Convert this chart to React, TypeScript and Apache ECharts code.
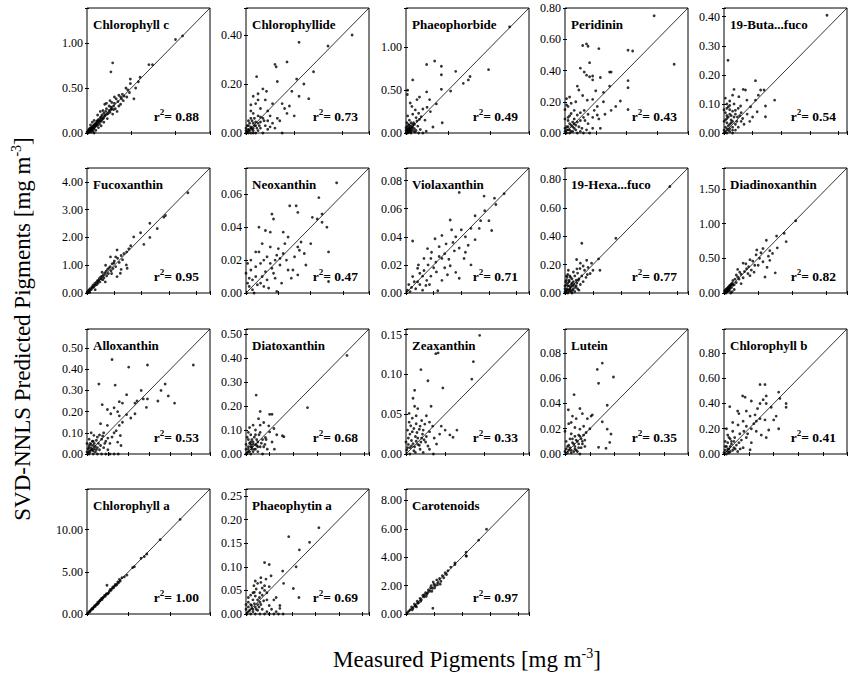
import React, { useEffect, useRef } from "react";
import * as echarts from "echarts";

const PANEL_NAMES = [
  "Chlorophyll c", "Chlorophyllide", "Phaeophorbide", "Peridinin", "19-Buta...fuco",
  "Fucoxanthin", "Neoxanthin", "Violaxanthin", "19-Hexa...fuco", "Diadinoxanthin",
  "Alloxanthin", "Diatoxanthin", "Zeaxanthin", "Lutein", "Chlorophyll b",
  "Chlorophyll a", "Phaeophytin a", "Carotenoids",
];
const AXIS_MAX = [1.39, 0.51, 1.46, 0.8, 0.43, 4.5, 0.076, 0.089, 0.88, 1.8, 0.59, 0.52, 0.157, 0.099, 0.99, 14.8, 0.265, 8.8];
const TICK_STEP = [0.5, 0.2, 0.5, 0.2, 0.1, 1, 0.02, 0.02, 0.2, 0.5, 0.1, 0.1, 0.05, 0.02, 0.2, 5, 0.05, 2];
const R2_LABELS = ["0.88", "0.73", "0.49", "0.43", "0.54", "0.95", "0.47", "0.71", "0.77", "0.82", "0.53", "0.68", "0.33", "0.35", "0.41", "1.00", "0.69", "0.97"];
const X_TITLE = "Measured Pigments [mg m{s|-3}]";
const Y_TITLE = "SVD-NNLS Predicted Pigments [mg m{s|-3}]";

const D_CHLC = [[1.00,1.04],[1.08,1.08],[0.29,0.78],[0.27,0.68],[0.70,0.76],[0.74,0.76],[0.60,0.62],[0.49,0.60],[0.49,0.55],[0.53,0.38],[0.46,0.48],[0.44,0.50],[0.40,0.43],[0.38,0.40],[0.36,0.42],[0.35,0.35],[0.33,0.38],[0.31,0.33],[0.30,0.30],[0.28,0.34],[0.27,0.26],[0.25,0.30],[0.24,0.22],[0.22,0.27],[0.21,0.24],[0.20,0.19],[0.19,0.22],[0.18,0.16],[0.17,0.20],[0.16,0.13],[0.15,0.17],[0.14,0.10],[0.13,0.15],[0.12,0.12],[0.11,0.08],[0.10,0.11],[0.09,0.07],[0.08,0.09],[0.07,0.05],[0.06,0.07],[0.05,0.04],[0.04,0.06],[0.03,0.03],[0.02,0.02],[0.05,0.01],[0.10,0.03],[0.2,0.32],[0.22,0.33],[0.26,0.36],[0.32,0.27],[0.34,0.24],[0.38,0.32],[0.41,0.36],[0.42,0.41],[0.45,0.40],[0.36,0.30],[0.29,0.21],[0.23,0.16],[0.19,0.12],[0.15,0.24],[0.12,0.20],[0.08,0.14],[0.06,0.12],[0.04,0.09],[0.03,0.05],[0.02,0.04],[0.01,0.01],[0.07,0.02],[0.55,0.50],[0.58,0.57],[0.48,0.45],[0.39,0.38],[0.31,0.40],[0.27,0.29],[0.18,0.25],[0.16,0.08],[0.13,0.06],[0.01,0.0],[0.02,0.01],[0.04,0.03],[0.05,0.06],[0.06,0.04],[0.08,0.05],[0.09,0.10],[0.11,0.13],[0.12,0.09],[0.08,0.0],[0.0,0.01],[0.01,0.02],[0.02,0.03],[0.03,0.01],[0.04,0.04],[0.05,0.03],[0.06,0.06],[0.07,0.08],[0.08,0.06],[0.09,0.08],[0.10,0.09],[0.11,0.10],[0.12,0.14],[0.14,0.12],[0.15,0.14],[0.16,0.18],[0.17,0.15],[0.19,0.17],[0.21,0.20],[0.23,0.21],[0.25,0.25],[0.26,0.23],[0.28,0.27],[0.30,0.26]];
const D_CHLIDE = [[0.44,0.40],[0.22,0.37],[0.34,0.355],[0.12,0.28],[0.17,0.29],[0.125,0.27],[0.044,0.23],[0.28,0.25],[0.13,0.21],[0.07,0.18],[0.085,0.17],[0.21,0.22],[0.24,0.20],[0.22,0.15],[0.05,0.135],[0.08,0.135],[0.11,0.12],[0.17,0.08],[0.13,0.06],[0.14,0.05],[0.10,0.025],[0.06,0.10],[0.04,0.12],[0.03,0.08],[0.09,0.09],[0.15,0.12],[0.16,0.10],[0.18,0.11],[0.10,0.07],[0.07,0.06],[0.05,0.07],[0.02,0.06],[0.03,0.04],[0.04,0.03],[0.06,0.02],[0.08,0.03],[0.12,0.02],[0.02,0.02],[0.01,0.03],[0.01,0.01],[0.02,0.0],[0.03,0.01],[0.04,0.0],[0.05,0.01],[0.0,0.01],[0.01,0.05],[0.02,0.09],[0.06,0.045],[0.09,0.015],[0.07,0.0],[0.15,0.0],[0.11,0.04],[0.03,0.15],[0.05,0.16],[0.19,0.17],[0.2,0.07],[0.26,0.14],[0.01,0.0],[0.0,0.02],[0.03,0.0],[0.0,0.0],[0.005,0.005],[0.01,0.015],[0.015,0.01],[0.02,0.025],[0.025,0.015],[0.03,0.02],[0.035,0.03],[0.04,0.045],[0.045,0.02],[0.05,0.04],[0.055,0.03],[0.015,0.04],[0.025,0.05],[0.035,0.06],[0.005,0.03],[0.06,0.065],[0.075,0.05],[0.02,0.115],[0.09,0.05]];
const D_PHBIDE = [[1.23,1.24],[0.245,0.80],[0.34,0.84],[0.42,0.78],[0.42,0.68],[0.59,0.72],[0.98,0.74],[0.76,0.66],[0.74,0.62],[0.68,0.58],[0.08,0.62],[0.42,0.51],[0.53,0.49],[0.245,0.48],[0.16,0.42],[0.13,0.39],[0.28,0.39],[0.36,0.34],[0.07,0.31],[0.11,0.27],[0.15,0.23],[0.225,0.15],[0.32,0.07],[0.43,0.12],[0.016,0.45],[0.02,0.50],[0.05,0.35],[0.08,0.22],[0.12,0.18],[0.18,0.19],[0.20,0.28],[0.25,0.30],[0.29,0.25],[0.04,0.15],[0.06,0.12],[0.10,0.10],[0.14,0.08],[0.02,0.20],[0.03,0.10],[0.05,0.06],[0.07,0.04],[0.09,0.02],[0.12,0.03],[0.17,0.04],[0.20,0.0],[0.24,0.02],[0.01,0.02],[0.02,0.05],[0.03,0.03],[0.04,0.01],[0.05,0.02],[0.06,0.0],[0.08,0.07],[0.10,0.05],[0.01,0.08],[0.0,0.03],[0.02,0.0],[0.11,0.01],[0.15,0.0],[0.03,0.07],[0.0,0.0],[0.01,0.01],[0.02,0.015],[0.03,0.01],[0.04,0.03],[0.05,0.04],[0.015,0.035],[0.025,0.045],[0.035,0.02],[0.045,0.05],[0.06,0.08],[0.07,0.06],[0.08,0.10],[0.09,0.12],[0.0,0.06],[0.01,0.12],[0.04,0.09],[0.06,0.02],[0.13,0.14],[0.16,0.16]];
const D_PERID = [[0.58,0.75],[0.71,0.44],[0.115,0.56],[0.14,0.57],[0.15,0.555],[0.22,0.54],[0.41,0.53],[0.44,0.525],[0.16,0.45],[0.10,0.415],[0.125,0.39],[0.14,0.37],[0.16,0.36],[0.18,0.365],[0.18,0.34],[0.23,0.355],[0.29,0.39],[0.30,0.39],[0.41,0.335],[0.41,0.29],[0.36,0.205],[0.29,0.30],[0.30,0.145],[0.41,0.15],[0.08,0.30],[0.09,0.275],[0.115,0.24],[0.145,0.21],[0.18,0.215],[0.21,0.17],[0.21,0.115],[0.22,0.09],[0.23,0.03],[0.18,0.03],[0.03,0.23],[0.02,0.17],[0.04,0.125],[0.06,0.145],[0.08,0.115],[0.10,0.08],[0.15,0.06],[0.05,0.07],[0.18,0.10],[0.19,0.145],[0.125,0.145],[0.01,0.22],[0.01,0.18],[0.02,0.10],[0.03,0.06],[0.01,0.04],[0.02,0.02],[0.04,0.01],[0.06,0.03],[0.08,0.0],[0.10,0.01],[0.12,0.0],[0.14,0.02],[0.16,0.0],[0.0,0.01],[0.01,0.0],[0.03,0.0],[0.05,0.04],[0.07,0.05],[0.12,0.10],[0.15,0.12],[0.25,0.20],[0.26,0.12],[0.33,0.17],[0.25,0.26],[0.2,0.27],[0.0,0.03],[0.01,0.02],[0.02,0.04],[0.03,0.02],[0.04,0.05],[0.05,0.01],[0.06,0.06],[0.07,0.02],[0.09,0.04],[0.11,0.03],[0.02,0.08],[0.0,0.09],[0.03,0.11],[0.06,0.09],[0.08,0.07],[0.0,0.15],[0.04,0.19],[0.07,0.20],[0.1,0.13],[0.13,0.08]];
const D_BUTA = [[0.36,0.405],[0.014,0.25],[0.11,0.18],[0.067,0.15],[0.075,0.148],[0.128,0.148],[0.14,0.148],[0.035,0.15],[0.03,0.13],[0.052,0.125],[0.08,0.113],[0.11,0.113],[0.145,0.093],[0.058,0.093],[0.093,0.09],[0.116,0.073],[0.081,0.065],[0.10,0.055],[0.04,0.078],[0.047,0.055],[0.177,0.113],[0.145,0.056],[0.01,0.10],[0.015,0.09],[0.02,0.08],[0.005,0.07],[0.025,0.06],[0.01,0.05],[0.03,0.04],[0.02,0.03],[0.005,0.02],[0.015,0.01],[0.03,0.02],[0.04,0.03],[0.06,0.04],[0.05,0.02],[0.07,0.03],[0.0,0.04],[0.0,0.0],[0.01,0.0],[0.02,0.005],[0.03,0.0],[0.04,0.01],[0.065,0.05],[0.09,0.04],[0.02,0.11],[0.005,0.12],[0.035,0.1],[0.05,0.085],[0.12,0.13],[0.06,0.07],[0.01,0.06],[0.0,0.01],[0.005,0.005],[0.01,0.015],[0.015,0.025],[0.02,0.015],[0.025,0.035],[0.01,0.035],[0.005,0.045],[0.015,0.055],[0.02,0.065],[0.025,0.045],[0.03,0.075],[0.035,0.055],[0.0,0.08],[0.01,0.085],[0.02,0.095],[0.04,0.065],[0.045,0.04],[0.055,0.06],[0.03,0.01]];
const D_FUCO = [[3.69,3.61],[2.87,2.79],[2.81,2.73],[2.57,2.32],[2.30,2.51],[1.96,2.17],[2.30,2.00],[1.71,2.02],[1.53,1.59],[2.08,1.75],[1.10,0.59],[1.22,0.71],[0.86,1.30],[0.98,1.08],[1.44,1.01],[1.47,0.89],[0.67,0.40],[1.60,1.70],[1.45,1.48],[1.35,1.42],[1.30,1.20],[1.25,1.35],[1.18,1.10],[1.12,1.25],[1.05,0.95],[1.00,1.15],[0.95,0.88],[0.92,1.05],[0.88,0.80],[0.85,0.95],[0.80,0.90],[0.78,0.70],[0.75,0.85],[0.72,0.62],[0.70,0.78],[0.65,0.72],[0.62,0.55],[0.60,0.66],[0.58,0.48],[0.55,0.60],[0.52,0.50],[0.50,0.58],[0.47,0.40],[0.45,0.52],[0.42,0.45],[0.40,0.35],[0.38,0.44],[0.35,0.30],[0.33,0.38],[0.30,0.28],[0.28,0.34],[0.25,0.22],[0.22,0.28],[0.20,0.18],[0.18,0.22],[0.15,0.12],[0.12,0.16],[0.10,0.08],[0.08,0.12],[0.06,0.05],[0.05,0.08],[0.04,0.03],[0.03,0.05],[0.02,0.01],[0.01,0.03],[0.0,0.0],[0.1,0.02],[0.3,0.12],[0.55,0.75],[0.68,1.0],[1.05,1.30],[1.25,0.85],[1.1,1.55],[0.9,0.7]];
const D_NEO = [[0.056,0.067],[0.045,0.058],[0.027,0.053],[0.031,0.053],[0.016,0.048],[0.032,0.049],[0.017,0.045],[0.041,0.046],[0.044,0.045],[0.047,0.048],[0.047,0.043],[0.050,0.040],[0.008,0.040],[0.012,0.038],[0.015,0.037],[0.023,0.037],[0.026,0.034],[0.024,0.030],[0.034,0.031],[0.032,0.028],[0.040,0.030],[0.051,0.025],[0.008,0.025],[0.020,0.027],[0.023,0.024],[0.018,0.020],[0.011,0.020],[0.009,0.018],[0.006,0.016],[0.003,0.014],[0.016,0.015],[0.021,0.017],[0.026,0.014],[0.029,0.014],[0.032,0.011],[0.037,0.017],[0.051,0.007],[0.001,0.018],[0.010,0.010],[0.004,0.008],[0.013,0.022],[0.015,0.018],[0.017,0.012],[0.019,0.023],[0.021,0.021],[0.006,0.010],[0.007,0.005],[0.002,0.004],[0.004,0.002],[0.009,0.006],[0.011,0.004],[0.013,0.008],[0.014,0.003],[0.002,0.009],[0.0,0.012],[0.001,0.006],[0.005,0.0],[0.012,0.013],[0.018,0.009],[0.022,0.006],[0.028,0.009],[0.025,0.020],[0.003,0.020],[0.006,0.025],[0.019,0.001],[0.03,0.022],[0.033,0.026],[0.036,0.024],[0.010,0.030],[0.015,0.028]];
const D_VIOLA = [[0.0385,0.0716],[0.0565,0.069],[0.071,0.0707],[0.064,0.0675],[0.065,0.063],[0.057,0.0586],[0.054,0.0515],[0.060,0.0515],[0.062,0.0445],[0.053,0.046],[0.047,0.046],[0.040,0.045],[0.032,0.052],[0.021,0.0386],[0.026,0.041],[0.029,0.035],[0.024,0.033],[0.0385,0.032],[0.045,0.034],[0.035,0.030],[0.0156,0.0316],[0.0185,0.029],[0.013,0.0246],[0.018,0.0246],[0.0216,0.022],[0.026,0.0246],[0.032,0.0194],[0.036,0.0147],[0.042,0.0246],[0.047,0.020],[0.0385,0.0105],[0.013,0.016],[0.0084,0.0176],[0.0048,0.0117],[0.0084,0.008],[0.0144,0.0054],[0.023,0.0016],[0.0048,0.037],[0.028,0.028],[0.024,0.026],[0.02,0.018],[0.016,0.02],[0.012,0.012],[0.010,0.014],[0.006,0.008],[0.004,0.004],[0.002,0.006],[0.003,0.001],[0.007,0.003],[0.010,0.006],[0.012,0.002],[0.015,0.009],[0.018,0.012],[0.022,0.015],[0.028,0.018],[0.031,0.024],[0.034,0.036],[0.036,0.040],[0.043,0.040],[0.050,0.038],[0.001,0.002],[0.009,0.020],[0.017,0.006],[0.026,0.009],[0.030,0.013],[0.043,0.029],[0.050,0.055],[0.033,0.045]];
const D_HEXA = [[0.75,0.75],[0.364,0.385],[0.24,0.24],[0.25,0.16],[0.12,0.35],[0.083,0.236],[0.155,0.23],[0.13,0.19],[0.107,0.172],[0.2,0.16],[0.18,0.137],[0.024,0.16],[0.06,0.148],[0.09,0.14],[0.14,0.16],[0.165,0.18],[0.11,0.21],[0.07,0.12],[0.04,0.11],[0.02,0.13],[0.01,0.09],[0.03,0.08],[0.05,0.07],[0.08,0.09],[0.10,0.10],[0.12,0.12],[0.02,0.05],[0.04,0.04],[0.06,0.03],[0.08,0.05],[0.01,0.02],[0.03,0.01],[0.05,0.0],[0.0,0.03],[0.02,0.0],[0.07,0.01],[0.09,0.03],[0.11,0.06],[0.13,0.08],[0.15,0.11],[0.01,0.06],[0.03,0.05],[0.06,0.08],[0.10,0.02],[0.04,0.02],[0.0,0.0],[0.015,0.11],[0.085,0.17],[0.16,0.13],[0.19,0.21],[0.0,0.01],[0.01,0.01],[0.015,0.03],[0.025,0.02],[0.035,0.03],[0.045,0.01],[0.055,0.02],[0.02,0.07],[0.03,0.09],[0.045,0.06],[0.055,0.05],[0.065,0.06],[0.0,0.05],[0.005,0.08],[0.01,0.12],[0.035,0.12],[0.05,0.10],[0.075,0.04],[0.085,0.07],[0.095,0.09]];
const D_DIADINO = [[0.77,0.82],[0.91,0.74],[0.62,0.76],[0.57,0.64],[0.78,0.65],[0.67,0.61],[0.38,0.48],[0.47,0.55],[0.52,0.50],[0.57,0.45],[0.67,0.47],[0.63,0.37],[0.75,0.29],[0.60,0.23],[0.28,0.43],[0.33,0.35],[0.23,0.30],[0.18,0.26],[0.13,0.18],[0.25,0.135],[0.083,0.11],[1.05,1.04],[0.88,0.86],[0.45,0.40],[0.42,0.46],[0.40,0.33],[0.36,0.38],[0.35,0.28],[0.30,0.31],[0.28,0.22],[0.25,0.27],[0.22,0.20],[0.20,0.23],[0.18,0.15],[0.16,0.20],[0.15,0.12],[0.12,0.14],[0.11,0.08],[0.10,0.12],[0.08,0.06],[0.07,0.09],[0.06,0.04],[0.05,0.07],[0.04,0.03],[0.03,0.05],[0.02,0.02],[0.01,0.03],[0.01,0.0],[0.03,0.0],[0.05,0.02],[0.08,0.03],[0.12,0.02],[0.48,0.62],[0.54,0.58],[0.71,0.57],[0.65,0.53],[0.50,0.40],[0.44,0.30],[0.32,0.42],[0.38,0.25],[0.20,0.34],[0.15,0.05],[0.1,0.0],[0.02,0.04],[0.04,0.06],[0.06,0.08],[0.03,0.02],[0.05,0.04],[0.07,0.05],[0.09,0.10],[0.11,0.13],[0.13,0.11],[0.09,0.07]];
const D_ALLO = [[0.12,0.446],[0.20,0.41],[0.29,0.42],[0.51,0.42],[0.057,0.33],[0.135,0.325],[0.26,0.30],[0.375,0.33],[0.39,0.274],[0.355,0.30],[0.29,0.26],[0.19,0.28],[0.155,0.247],[0.13,0.218],[0.098,0.21],[0.073,0.233],[0.114,0.19],[0.147,0.2],[0.155,0.18],[0.23,0.24],[0.23,0.19],[0.285,0.22],[0.19,0.186],[0.065,0.143],[0.098,0.135],[0.08,0.10],[0.13,0.10],[0.155,0.135],[0.16,0.087],[0.147,0.056],[0.163,0.04],[0.065,0.04],[0.033,0.088],[0.02,0.10],[0.01,0.07],[0.03,0.06],[0.05,0.08],[0.07,0.07],[0.09,0.06],[0.11,0.05],[0.12,0.08],[0.14,0.11],[0.17,0.15],[0.21,0.17],[0.24,0.25],[0.27,0.26],[0.17,0.24],[0.01,0.03],[0.02,0.02],[0.03,0.04],[0.04,0.01],[0.05,0.03],[0.0,0.01],[0.01,0.0],[0.03,0.0],[0.05,0.0],[0.07,0.0],[0.09,0.0],[0.11,0.0],[0.13,0.0],[0.15,0.0],[0.06,0.02],[0.08,0.03],[0.10,0.02],[0.0,0.05],[0.02,0.045],[0.34,0.25],[0.42,0.24],[0.005,0.005],[0.01,0.015],[0.015,0.01],[0.02,0.03],[0.025,0.02],[0.03,0.015],[0.035,0.025],[0.04,0.035],[0.045,0.02],[0.005,0.025],[0.01,0.04],[0.015,0.05],[0.025,0.06],[0.035,0.05],[0.045,0.065],[0.055,0.05],[0.06,0.09],[0.075,0.085],[0.085,0.05],[0.1,0.075]];
const D_DIATO = [[0.427,0.41],[0.26,0.193],[0.043,0.245],[0.06,0.177],[0.053,0.147],[0.10,0.165],[0.11,0.165],[0.075,0.131],[0.096,0.117],[0.118,0.106],[0.10,0.092],[0.154,0.076],[0.16,0.072],[0.082,0.069],[0.04,0.10],[0.03,0.12],[0.02,0.08],[0.06,0.09],[0.07,0.06],[0.05,0.05],[0.03,0.04],[0.01,0.06],[0.02,0.03],[0.04,0.02],[0.06,0.03],[0.08,0.04],[0.01,0.01],[0.02,0.0],[0.03,0.01],[0.0,0.02],[0.05,0.01],[0.07,0.0],[0.09,0.02],[0.11,0.05],[0.13,0.08],[0.02,0.05],[0.015,0.11],[0.035,0.07],[0.045,0.035],[0.06,0.12],[0.0,0.0],[0.01,0.03],[0.025,0.02],[0.12,0.02],[0.005,0.005],[0.01,0.02],[0.015,0.01],[0.02,0.04],[0.025,0.03],[0.03,0.05],[0.035,0.02],[0.04,0.04],[0.045,0.06],[0.05,0.03],[0.055,0.08],[0.0,0.04],[0.005,0.07],[0.01,0.09],[0.025,0.06],[0.04,0.08],[0.065,0.045],[0.075,0.03],[0.085,0.06],[0.015,0.045]];
const D_ZEA = [[0.094,0.149],[0.038,0.126],[0.041,0.127],[0.019,0.106],[0.028,0.092],[0.047,0.083],[0.086,0.116],[0.084,0.094],[0.011,0.080],[0.009,0.070],[0.011,0.060],[0.015,0.057],[0.032,0.060],[0.004,0.051],[0.013,0.048],[0.026,0.048],[0.024,0.0375],[0.034,0.035],[0.045,0.035],[0.006,0.0354],[0.017,0.031],[0.043,0.025],[0.056,0.024],[0.06,0.021],[0.039,0.0125],[0.02,0.042],[0.008,0.028],[0.012,0.022],[0.003,0.02],[0.02,0.02],[0.025,0.015],[0.03,0.028],[0.05,0.03],[0.015,0.012],[0.007,0.01],[0.002,0.008],[0.01,0.004],[0.018,0.006],[0.022,0.002],[0.03,0.006],[0.035,0.0],[0.005,0.0],[0.0,0.015],[0.004,0.04],[0.008,0.045],[0.03,0.04],[0.036,0.02],[0.028,0.01],[0.013,0.038],[0.065,0.03],[0.001,0.005],[0.003,0.012],[0.005,0.008],[0.007,0.017],[0.009,0.013],[0.011,0.009],[0.013,0.016],[0.015,0.02],[0.017,0.011],[0.019,0.015],[0.021,0.025],[0.023,0.018],[0.005,0.025],[0.002,0.03],[0.01,0.032],[0.014,0.027],[0.018,0.035],[0.022,0.03],[0.026,0.022],[0.012,0.002]];
const D_LUT = [[0.030,0.072],[0.026,0.067],[0.039,0.061],[0.027,0.056],[0.0073,0.047],[0.0027,0.035],[0.012,0.036],[0.009,0.028],[0.021,0.030],[0.022,0.031],[0.034,0.0386],[0.030,0.0255],[0.034,0.0197],[0.037,0.0158],[0.036,0.0092],[0.027,0.0053],[0.033,0.0045],[0.015,0.022],[0.012,0.0197],[0.017,0.017],[0.005,0.025],[0.008,0.021],[0.011,0.015],[0.004,0.012],[0.006,0.009],[0.008,0.006],[0.010,0.010],[0.013,0.012],[0.002,0.006],[0.003,0.003],[0.005,0.001],[0.007,0.002],[0.009,0.003],[0.011,0.005],[0.014,0.008],[0.001,0.01],[0.0,0.002],[0.016,0.011],[0.018,0.028],[0.014,0.032],[0.006,0.03],[0.02,0.02],[0.012,0.0],[0.001,0.004],[0.002,0.001],[0.003,0.007],[0.004,0.005],[0.005,0.003],[0.006,0.012],[0.007,0.008],[0.008,0.004],[0.009,0.011],[0.010,0.002],[0.011,0.008],[0.012,0.014],[0.013,0.005],[0.014,0.01],[0.015,0.015],[0.0,0.018],[0.003,0.024],[0.005,0.016],[0.008,0.014],[0.016,0.006]];
const D_CHLB = [[0.29,0.55],[0.33,0.55],[0.15,0.46],[0.17,0.45],[0.22,0.42],[0.315,0.43],[0.34,0.40],[0.29,0.40],[0.34,0.46],[0.44,0.49],[0.45,0.44],[0.50,0.40],[0.50,0.37],[0.046,0.375],[0.11,0.34],[0.12,0.32],[0.18,0.34],[0.21,0.30],[0.25,0.31],[0.29,0.28],[0.33,0.27],[0.42,0.30],[0.40,0.27],[0.44,0.20],[0.36,0.19],[0.154,0.26],[0.07,0.25],[0.113,0.23],[0.18,0.22],[0.22,0.20],[0.26,0.18],[0.30,0.15],[0.34,0.13],[0.127,0.16],[0.07,0.18],[0.086,0.13],[0.18,0.13],[0.22,0.09],[0.154,0.05],[0.21,0.033],[0.02,0.2],[0.03,0.15],[0.05,0.12],[0.06,0.08],[0.08,0.1],[0.10,0.07],[0.12,0.09],[0.14,0.11],[0.16,0.18],[0.19,0.16],[0.24,0.24],[0.02,0.06],[0.04,0.04],[0.03,0.09],[0.01,0.03],[0.05,0.02],[0.07,0.03],[0.09,0.04],[0.11,0.02],[0.0,0.01],[0.02,0.0],[0.04,0.01],[0.13,0.04],[0.27,0.36],[0.38,0.37],[0.26,0.26],[0.01,0.06],[0.03,0.04],[0.05,0.06],[0.06,0.10],[0.04,0.13],[0.08,0.05],[0.01,0.10],[0.03,0.02]];
const D_CHLA = [[11.2,11.2],[8.8,8.8],[7.2,7.1],[6.9,6.8],[6.5,6.6],[5.7,5.6],[5.5,5.5],[4.8,4.6],[4.5,4.4],[4.2,4.3],[4.0,3.9],[3.8,3.7],[3.7,3.8],[3.5,3.4],[3.4,3.5],[3.2,3.1],[3.0,3.0],[2.9,2.8],[2.7,2.7],[2.4,3.4],[2.6,2.5],[2.5,2.4],[2.3,2.3],[2.2,2.1],[2.0,2.0],[1.9,1.9],[1.8,1.7],[1.6,1.6],[1.5,1.5],[1.4,1.3],[1.2,1.2],[1.1,1.1],[1.0,0.9],[0.9,0.9],[0.8,0.8],[0.7,0.6],[0.6,0.6],[0.5,0.5],[0.4,0.4],[0.3,0.3],[0.2,0.2],[0.1,0.1],[0.05,0.05],[3.9,4.1],[3.6,3.5],[3.3,3.3],[2.8,2.9],[3.1,3.2],[1.3,1.4],[1.7,1.8],[2.1,2.2],[0.35,0.3],[0.65,0.7],[0.95,1.0],[1.25,1.15],[1.55,1.6],[1.85,1.9],[2.35,2.4]];
const D_PHYTIN = [[0.157,0.183],[0.092,0.164],[0.137,0.152],[0.115,0.136],[0.108,0.10],[0.04,0.109],[0.05,0.105],[0.079,0.091],[0.054,0.081],[0.032,0.077],[0.043,0.074],[0.032,0.067],[0.081,0.065],[0.102,0.054],[0.114,0.035],[0.065,0.035],[0.073,0.018],[0.073,0.012],[0.05,0.018],[0.022,0.053],[0.018,0.046],[0.029,0.035],[0.035,0.04],[0.04,0.06],[0.045,0.045],[0.025,0.065],[0.02,0.07],[0.015,0.03],[0.01,0.02],[0.005,0.025],[0.012,0.012],[0.02,0.015],[0.025,0.02],[0.03,0.025],[0.035,0.01],[0.005,0.005],[0.01,0.0],[0.015,0.005],[0.02,0.0],[0.03,0.0],[0.04,0.0],[0.05,0.0],[0.06,0.0],[0.07,0.0],[0.0,0.01],[0.0,0.02],[0.005,0.015],[0.015,0.01],[0.025,0.008],[0.045,0.005],[0.06,0.03],[0.05,0.058],[0.017,0.06],[0.002,0.0],[0.008,0.008],[0.012,0.018],[0.018,0.022],[0.022,0.01],[0.028,0.015],[0.032,0.02],[0.038,0.028],[0.005,0.035],[0.01,0.04],[0.015,0.045],[0.02,0.038],[0.025,0.03],[0.03,0.045],[0.035,0.055],[0.04,0.05],[0.045,0.03],[0.055,0.01],[0.065,0.005],[0.08,0.0]];
const D_CAROT = [[5.76,5.97],[5.2,5.2],[4.3,4.35],[4.32,4.07],[3.5,3.48],[2.9,2.78],[1.92,0.4],[2.8,2.9],[2.6,2.7],[2.4,2.5],[2.5,2.3],[2.3,2.2],[2.2,2.4],[2.1,2.0],[2.0,2.1],[1.9,1.8],[1.8,2.0],[1.7,1.6],[1.6,1.7],[1.5,1.4],[1.4,1.5],[1.3,1.2],[1.2,1.3],[1.1,1.0],[1.0,1.1],[0.9,0.8],[0.8,0.9],[0.7,0.6],[0.6,0.7],[0.5,0.4],[0.4,0.5],[0.3,0.3],[0.2,0.2],[0.1,0.1],[2.05,1.85],[2.25,2.05],[1.75,1.85],[1.55,1.5],[1.95,2.25],[2.45,2.1],[1.3,1.35],[1.05,0.9],[0.85,0.75],[0.65,0.55],[0.75,0.5],[0.45,0.3],[3.2,3.3],[3.0,3.05],[2.7,2.55],[1.85,1.6],[1.45,1.25],[3.5,3.6],[4.3,4.1]];

const PANEL_DATA = [D_CHLC, D_CHLIDE, D_PHBIDE, D_PERID, D_BUTA, D_FUCO, D_NEO, D_VIOLA, D_HEXA, D_DIADINO, D_ALLO, D_DIATO, D_ZEA, D_LUT, D_CHLB, D_CHLA, D_PHYTIN, D_CAROT];

const W = 851;
const H = 678;
const COL_LEFT = [87, 246, 406, 565, 724];
const ROW_TOP = [8, 168, 329, 489];
const PANEL_W = 123;
const PANEL_H = 125;
const FONT = "'Liberation Serif', 'Times New Roman', serif";

function buildOption() {
  const grid: any[] = [];
  const xAxis: any[] = [];
  const yAxis: any[] = [];
  const series: any[] = [];
  const title: any[] = [];

  PANEL_NAMES.forEach((name, i) => {
    const col = i % 5;
    const row = Math.floor(i / 5);
    const left = COL_LEFT[col];
    const top = ROW_TOP[row];
    const max = AXIS_MAX[i];
    const step = TICK_STEP[i];
    grid.push({ left, top, width: PANEL_W, height: PANEL_H, show: true, borderColor: "#000", borderWidth: 1, backgroundColor: "transparent", containLabel: false });
    const fmt = (v: number) => (Math.abs(v / step - Math.round(v / step)) < 1e-6 ? v.toFixed(2) : "");
    const base = {
      type: "value", gridIndex: i, min: 0, max, interval: step,
      axisLine: { show: false }, splitLine: { show: false },
      axisTick: { show: true, inside: false, length: 2, lineStyle: { color: "#000", width: 1 } },
    };
    xAxis.push({ ...base, position: "bottom", axisLabel: { show: false } });
    xAxis.push({ ...base, position: "top", axisLabel: { show: false } });
    yAxis.push({ ...base, position: "left", axisLabel: { show: true, formatter: fmt, fontFamily: FONT, fontSize: 12, color: "#000", margin: 4 } });
    yAxis.push({ ...base, position: "right", axisLabel: { show: false } });
    series.push({ type: "scatter", xAxisIndex: 2 * i, yAxisIndex: 2 * i, data: PANEL_DATA[i], symbol: "circle", symbolSize: 2.8, itemStyle: { color: "#000" }, silent: true });
    series.push({ type: "line", xAxisIndex: 2 * i, yAxisIndex: 2 * i, data: [[0, 0], [max, max]], symbol: "none", lineStyle: { color: "#000", width: 0.8 }, silent: true });
    title.push({ text: name, left: left + 6, top: top + 10, padding: 0, textStyle: { fontFamily: FONT, fontWeight: "bold", fontSize: 13, color: "#000" } });
    title.push({
      text: `{a|r}{s|2}{a|= ${R2_LABELS[i]}}`,
      right: W - (left + PANEL_W - 11), top: top + PANEL_H - 26, padding: 0,
      textStyle: {
        rich: {
          a: { fontFamily: FONT, fontWeight: "bold", fontSize: 13.5, color: "#000", lineHeight: 18 },
          s: { fontFamily: FONT, fontWeight: "bold", fontSize: 9, color: "#000", lineHeight: 10, verticalAlign: "top" },
        },
      },
    });
  });

  const rich = { s: { fontFamily: FONT, fontSize: 14, fill: "#000", lineHeight: 12, verticalAlign: "top" } };
  const graphic = [
    { type: "text", x: 467, y: 659, style: { text: X_TITLE, fill: "#000", fontFamily: FONT, fontSize: 23, lineHeight: 26, align: "center", verticalAlign: "middle", rich } },
    { type: "text", x: 22, y: 329, rotation: Math.PI / 2, style: { text: Y_TITLE, fill: "#000", fontFamily: FONT, fontSize: 23, lineHeight: 26, align: "center", verticalAlign: "middle", rich } },
  ];

  return { animation: false, backgroundColor: "#fff", grid, xAxis, yAxis, series, title, graphic };
}

export default function App() {
  const ref = useRef<HTMLDivElement>(null);
  useEffect(() => {
    document.body.style.margin = "0";
    if (!ref.current) return;
    const chart = echarts.init(ref.current, undefined, { renderer: "svg" });
    chart.setOption(buildOption() as any);
    return () => chart.dispose();
  }, []);
  return <div ref={ref} style={{ width: W, height: H }} />;
}
